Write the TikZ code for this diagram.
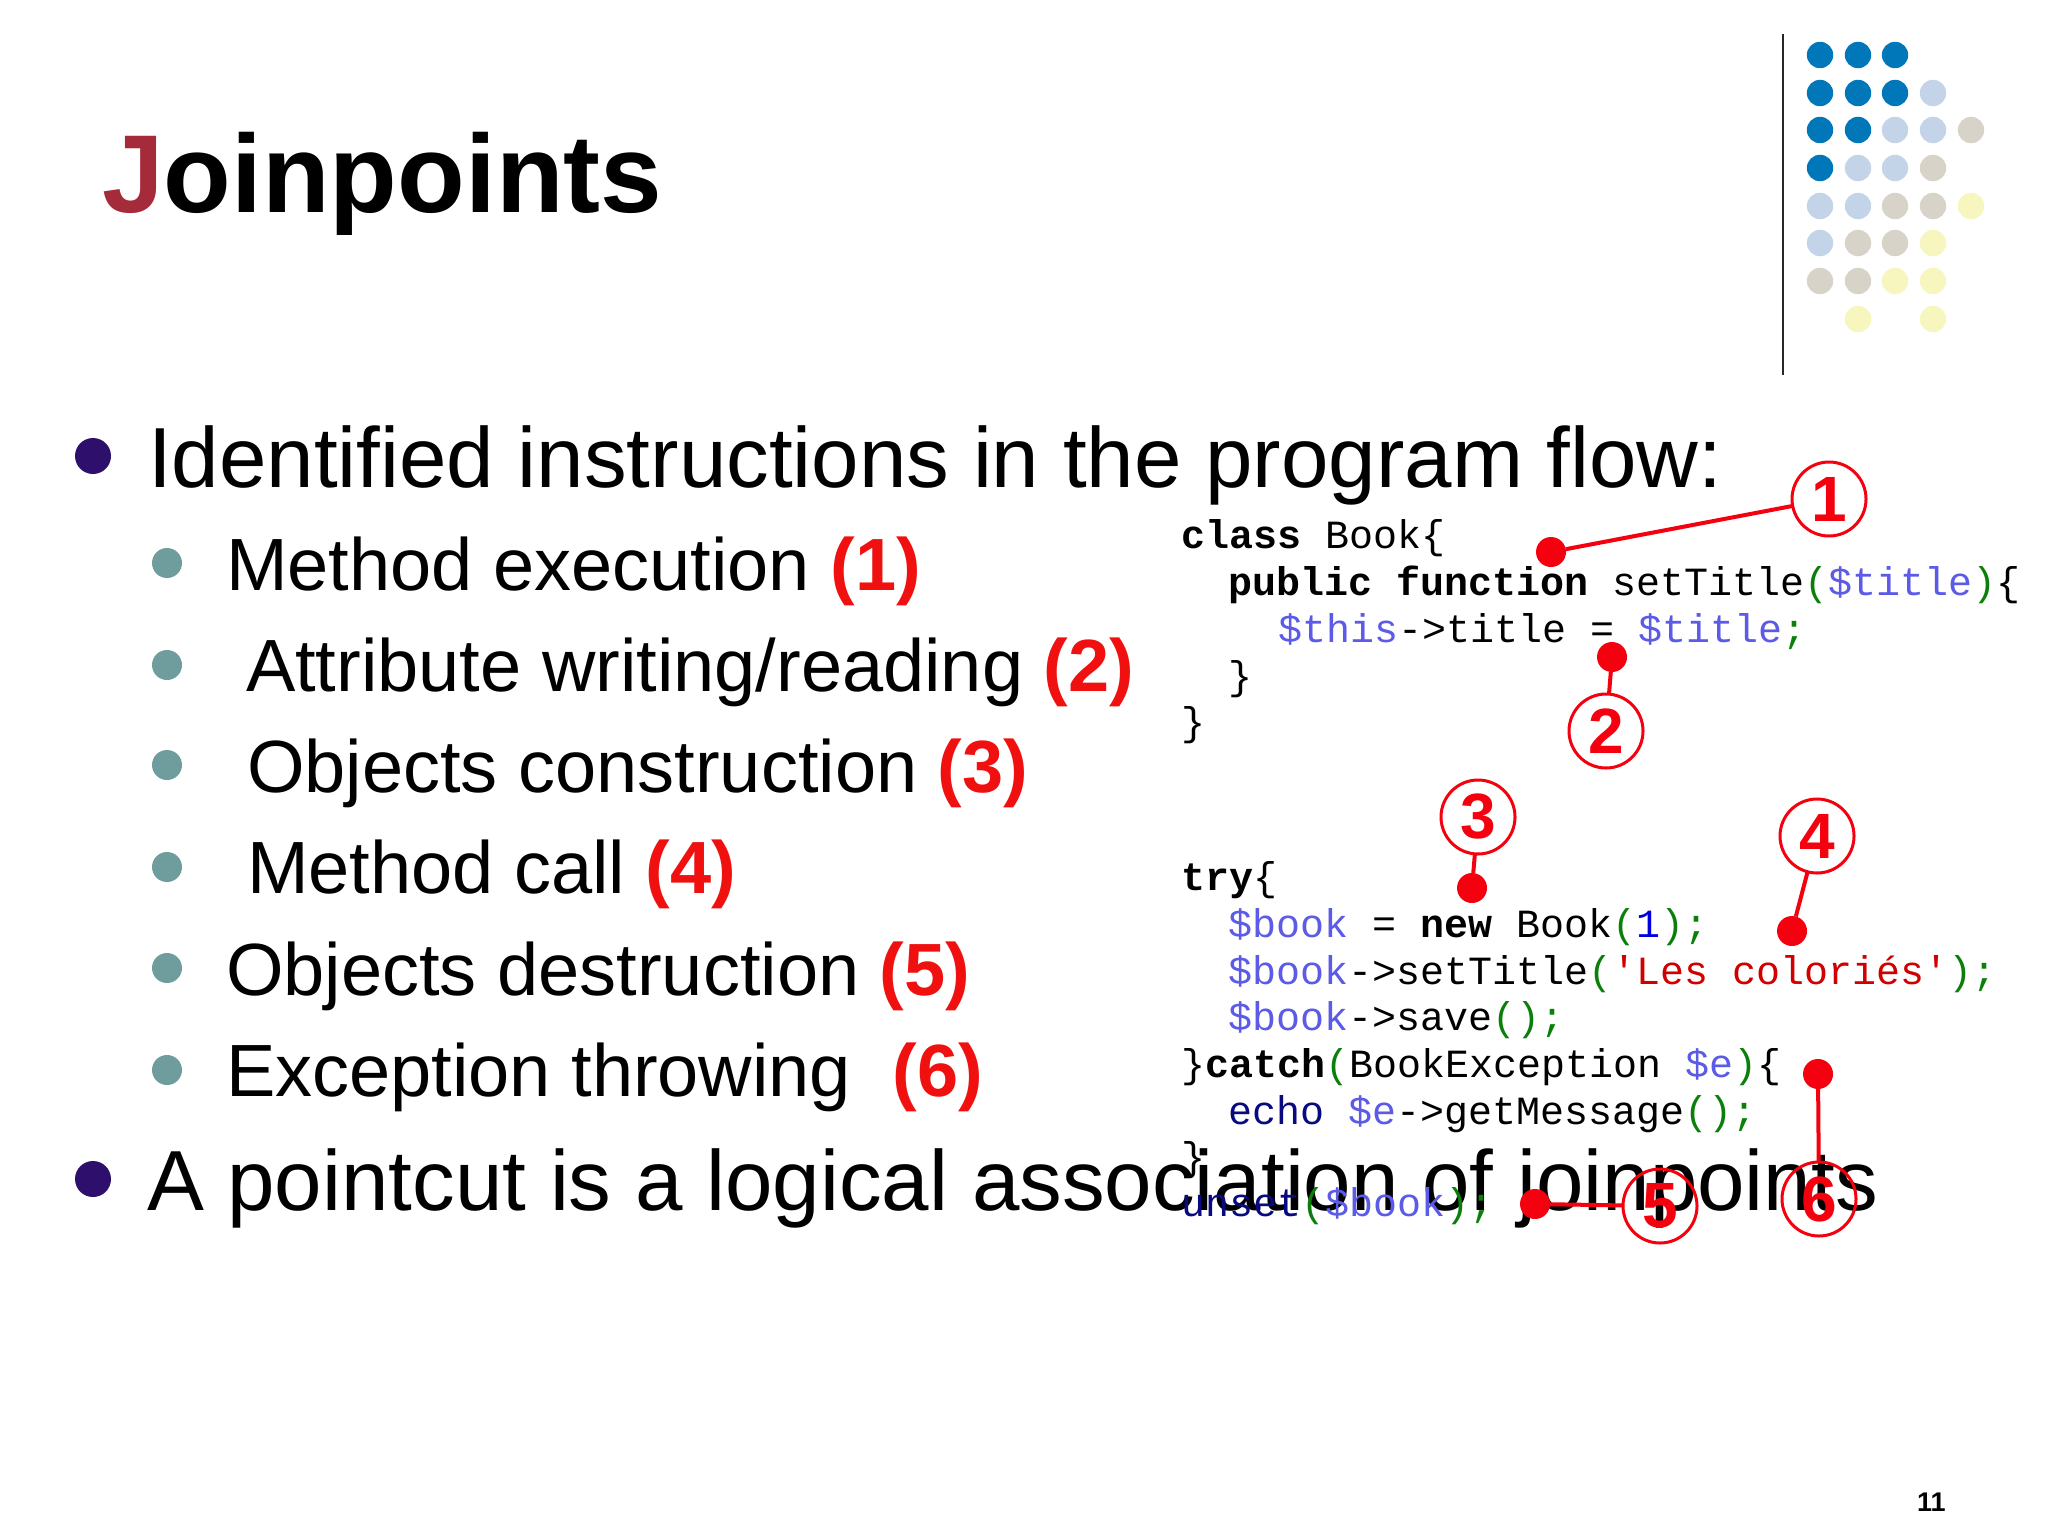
\documentclass[tikz,border=0pt]{standalone}
\usepackage{fontspec}
\setmainfont{Liberation Sans}
\setmonofont{Liberation Mono}
\definecolor{titlered}{HTML}{A52A3A}
\definecolor{bigbullet}{HTML}{2E0F6B}
\definecolor{smallbullet}{HTML}{6F9C9C}
\definecolor{annot}{HTML}{F5000F}
\definecolor{numred}{HTML}{F01010}
\definecolor{dA}{HTML}{0077B8}
\definecolor{dB}{HTML}{C3D3E8}
\definecolor{dC}{HTML}{D8D3C9}
\definecolor{dD}{HTML}{F6F6BE}
\definecolor{cvar}{HTML}{5B5BE8}
\definecolor{cpar}{HTML}{0A7F0A}
\definecolor{cnavy}{HTML}{0A0A80}
\definecolor{cnum}{HTML}{0000E0}
\definecolor{cstr}{HTML}{D00000}
\newcommand{\V}[1]{\textcolor{cvar}{#1}}
\newcommand{\Pa}[1]{\textcolor{cpar}{#1}}
\newcommand{\K}[1]{\textbf{#1}}
\newcommand{\N}[1]{\textcolor{cnavy}{#1}}
\newcommand{\R}[1]{\textcolor{numred}{\textbf{#1}}}
\tikzset{
  x=0.5pt,y=-0.5pt,
  every node/.style={inner sep=0pt,outer sep=0pt},
  heading/.style={anchor=base west,font=\fontsize{55.4}{60}\selectfont\bfseries},
  lvlone/.style={anchor=base west,font=\fontsize{42.66}{50}\selectfont},
  lvltwo/.style={anchor=base west,font=\fontsize{37}{42}\selectfont},
  code/.style={anchor=base west,font=\fontsize{20}{22}\selectfont\ttfamily},
  bulA/.style={circle,fill=bigbullet,minimum size=18pt},
  bulB/.style={circle,fill=smallbullet,minimum size=15pt},
  deco/.style={circle,minimum size=13.2pt},
  numc/.style={circle,draw=annot,line width=1.5pt,minimum size=37pt,text=annot,font=\fontsize{32}{34}\selectfont\bfseries},
  dot/.style={circle,fill=annot,minimum size=15pt},
  lnk/.style={draw=annot,line width=2pt},
}
\begin{document}
\begin{tikzpicture}
\useasboundingbox[fill=white] (0,0) rectangle (2048,1536);
% decoration
\coordinate (rt) at (1783,34);
\coordinate (rb) at (1783,375);
\draw[line width=1pt,black!85] (rt) -- (rb);
\foreach \xx/\yy/\cc [count=\i] in {
 1820/55/dA,1858/55/dA,1895/55/dA,
 1820/93/dA,1858/93/dA,1895/93/dA,1933/93/dB,
 1820/130/dA,1858/130/dA,1895/130/dB,1933/130/dB,1971/130/dC,
 1820/168/dA,1858/168/dB,1895/168/dB,1933/168/dC,
 1820/206/dB,1858/206/dB,1895/206/dC,1933/206/dC,1971/206/dD,
 1820/243/dB,1858/243/dC,1895/243/dC,1933/243/dD,
 1820/281/dC,1858/281/dC,1895/281/dD,1933/281/dD,
 1858/319/dD,1933/319/dD}
  \node[deco,fill=\cc] (dec\i) at (\xx,\yy) {};
% title
\node[heading] (title) at (102,212) {\textcolor{titlered}{J}oinpoints};
% bullets
\node[bulA] (ba) at (93,456) {};
\node[lvlone] (ta) at (148,487) {Identified instructions in the program flow:};
\node[bulB] (b1) at (167,563) {};
\node[lvltwo] (t1) at (226,590) {Method execution \R{(1)}};
\node[bulB] (b2) at (167,665) {};
\node[lvltwo] (t2) at (246,691) {Attribute writing/reading \R{(2)}};
\node[bulB] (b3) at (167,765) {};
\node[lvltwo] (t3) at (247,792) {Objects construction \R{(3)}};
\node[bulB] (b4) at (167,867) {};
\node[lvltwo] (t4) at (247,893) {Method call \R{(4)}};
\node[bulB] (b5) at (167,968) {};
\node[lvltwo] (t5) at (226,995) {Objects destruction \R{(5)}};
\node[bulB] (b6) at (167,1070) {};
\node[lvltwo] (t6) at (226,1096) {Exception throwing\ \ \R{(6)}};
\node[bulA] (bb) at (93,1179) {};
\node[lvlone] (tb) at (147,1210) {A pointcut is a logical association of joinpoints};
% code
\node[code] (c1) at (1181,548) {\K{class} Book\{};
\node[code] (c2) at (1228,595) {\K{public function} setTitle\Pa{(}\V{\$title}\Pa{)}\{};
\node[code] (c3) at (1278,642) {\V{\$this}->title = \V{\$title}\Pa{;}};
\node[code] (c4) at (1228,689) {\}};
\node[code] (c5) at (1181,735) {\}};
\node[code] (c6) at (1181,890) {\K{try}\{};
\node[code] (c7) at (1228,937) {\V{\$book} = \K{new} Book\Pa{(}\textcolor{cnum}{1}\Pa{);}};
\node[code] (c8) at (1228,984) {\V{\$book}->setTitle\Pa{(}\textcolor{cstr}{'Les coloriés'}\Pa{);}};
\node[code] (c9) at (1228,1030) {\V{\$book}->save\Pa{();}};
\node[code] (c10) at (1181,1077) {\}\K{catch}\Pa{(}BookException \V{\$e}\Pa{)}\{};
\node[code] (c11) at (1228,1124) {\N{echo} \V{\$e}->getMessage\Pa{();}};
\node[code] (c12) at (1181,1170) {\}};
\node[code] (c13) at (1181,1216) {\N{unset}\Pa{(}\V{\$book}\Pa{);}};
% annotations
\node[numc] (n1) at (1829,499) {1};
\node[numc] (n2) at (1606,731) {2};
\node[numc] (n3) at (1478,817) {3};
\node[numc] (n4) at (1817,836) {4};
\node[numc] (n5) at (1660,1206) {5};
\node[numc] (n6) at (1819,1199) {6};
\node[dot] (d1) at (1551,552) {};
\node[dot] (d2) at (1612,657) {};
\node[dot] (d3) at (1472,888) {};
\node[dot] (d4) at (1792,931) {};
\node[dot] (d5) at (1535,1204) {};
\node[dot] (d6) at (1818,1074) {};
\draw[lnk] (n1) -- (d1);
\draw[lnk] (n2) -- (d2);
\draw[lnk] (n3) -- (d3);
\draw[lnk] (n4) -- (d4);
\draw[lnk] (n5) -- (d5);
\draw[lnk] (n6) -- (d6);
% page number
\node[anchor=base west,font=\fontsize{13.5}{15}\selectfont\bfseries] (pg) at (1917,1511) {11};
\end{tikzpicture}
\end{document}
